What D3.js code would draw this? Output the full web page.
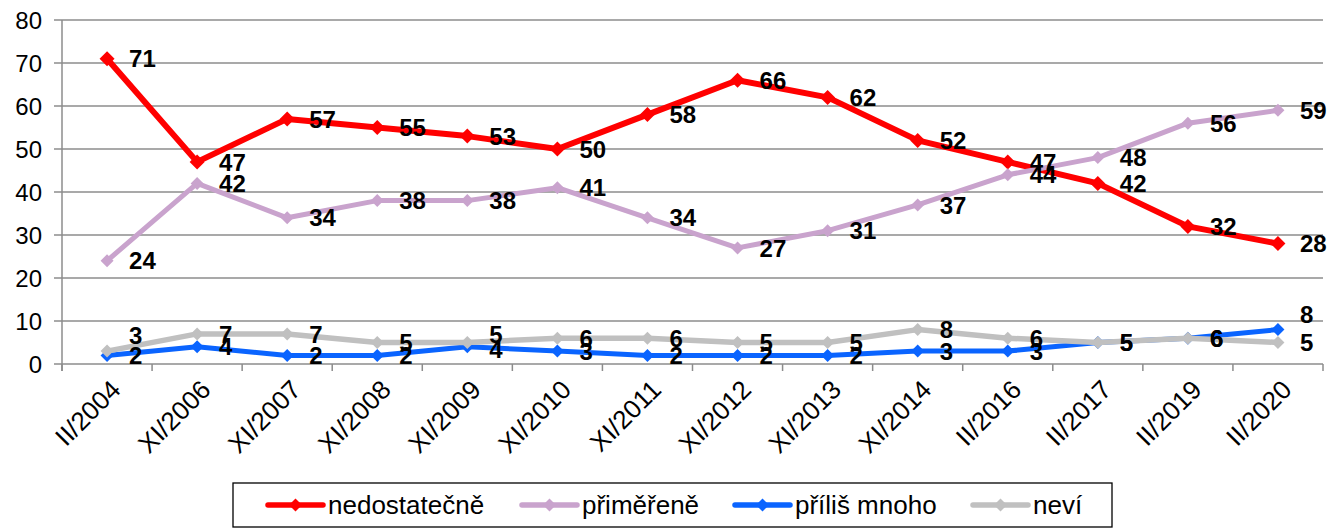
<!DOCTYPE html>
<html>
<head>
<meta charset="utf-8">
<script src="https://cdn.jsdelivr.net/npm/d3@7"></script>
<style>
  body { margin: 0; background: #fff; }
  text { font-family: "Liberation Sans", Arial, sans-serif; }
</style>
</head>
<body>
<div id="svgcontainer"></div>
<script>
var categories = ["II/2004", "XI/2006", "XI/2007", "XI/2008", "XI/2009", "XI/2010", "XI/2011",
                  "XI/2012", "XI/2013", "XI/2014", "II/2016", "II/2017", "II/2019", "II/2020"];
var nedostatecne = [71, 47, 57, 55, 53, 50, 58, 66, 62, 52, 47, 42, 32, 28];
var primerene    = [24, 42, 34, 38, 38, 41, 34, 27, 31, 37, 44, 48, 56, 59];
var prilisMnoho  = [2, 4, 2, 2, 4, 3, 2, 2, 2, 3, 3, 5, 6, 8];
var nevi         = [3, 7, 7, 5, 5, 6, 6, 5, 5, 8, 6, 5, 6, 5];
var yTicks = [0, 10, 20, 30, 40, 50, 60, 70, 80];

var series = [
  {label: "nedostatečně", values: nedostatecne, color: "#ff0000", width: 6, mark: 7.5},
  {label: "přiměřeně",    values: primerene,    color: "#c9a3cd", width: 5, mark: 6.5},
  {label: "příliš mnoho", values: prilisMnoho,  color: "#0a64ff", width: 5, mark: 6.5},
  {label: "neví",         values: nevi,         color: "#c0c0c0", width: 5.5, mark: 6.5}
];

// manual label nudges (px) where labels would collide
var labelShift = {
  "neví": {0: -16, 4: -8},
  "příliš mnoho": {4: 3, 13: -15}
};

var W = 1341, H = 529,
    margin = {top: 20, right: 18, bottom: 165, left: 62},
    width = W - margin.left - margin.right,
    height = H - margin.top - margin.bottom;

var svg = d3.select("div#svgcontainer").append("svg")
    .attr("width", W).attr("height", H);
var g = svg.append("g")
    .attr("transform", "translate(" + margin.left + "," + margin.top + ")");

var x = d3.scaleBand().domain(categories).range([0, width]);
var y = d3.scaleLinear().domain([0, 80]).range([height, 0]);
var cx = function(i){ return x(categories[i]) + x.bandwidth() / 2; };

// gridlines
g.selectAll(".grid").data(yTicks).enter().append("line")
  .attr("x1", -8).attr("x2", width)
  .attr("y1", function(d){ return y(d); }).attr("y2", function(d){ return y(d); })
  .style("stroke", "#8c8c8c").style("stroke-width", 1.5);

// y axis line
g.append("line").attr("x1", 0).attr("x2", 0).attr("y1", 0).attr("y2", height + 7)
  .style("stroke", "#8c8c8c").style("stroke-width", 1.5);

g.selectAll(".ylab").data(yTicks).enter().append("text")
  .attr("x", -20).attr("y", function(d){ return y(d); })
  .attr("dy", "0.36em").attr("text-anchor", "end")
  .style("font-size", "24px").text(function(d){ return d; });

// x ticks at band boundaries
var bounds = categories.map(function(c){ return x(c); }).concat([width]);
g.selectAll(".xtick").data(bounds).enter().append("line")
  .attr("x1", function(d){ return d; }).attr("x2", function(d){ return d; })
  .attr("y1", height).attr("y2", height + 7)
  .style("stroke", "#8c8c8c").style("stroke-width", 1.5);

g.selectAll(".xlab").data(categories).enter().append("text")
  .attr("transform", function(d, i){ return "translate(" + (cx(i) + 2) + "," + (height + 14) + ") rotate(-45)"; })
  .attr("text-anchor", "end").attr("dy", "0.72em")
  .style("font-size", "26px").text(function(d){ return d; });

var line = d3.line()
  .x(function(d, i){ return cx(i); })
  .y(function(d){ return y(d); });

function diamond(r){ return "M0," + (-r) + "L" + r + ",0L0," + r + "L" + (-r) + ",0Z"; }

series.forEach(function(s){
  g.append("path").attr("d", line(s.values))
    .style("fill", "none").style("stroke", s.color)
    .style("stroke-width", s.width).style("stroke-linejoin", "round");
  g.selectAll(null).data(s.values).enter().append("path")
    .attr("d", diamond(s.mark))
    .attr("transform", function(d, i){ return "translate(" + cx(i) + "," + y(d) + ")"; })
    .style("fill", s.color);
});

series.forEach(function(s){
  var shift = labelShift[s.label] || {};
  g.selectAll(null).data(s.values).enter().append("text")
    .attr("x", function(d, i){ return cx(i) + 22; })
    .attr("y", function(d, i){ return y(d) + (shift[i] || 0); })
    .attr("dy", "0.36em")
    .style("font-size", "24px").style("font-weight", "bold")
    .text(function(d){ return d; });
});

// legend
var lg = svg.append("g").attr("transform", "translate(233,483)");
lg.append("rect").attr("width", 879).attr("height", 44)
  .style("fill", "#fff").style("stroke", "#000").style("stroke-width", 1.3);
var legendX = [35, 289, 502, 740];
series.forEach(function(s, i){
  var it = lg.append("g").attr("transform", "translate(" + legendX[i] + ",22)");
  it.append("line").attr("x1", 0).attr("x2", 55)
    .style("stroke", s.color).style("stroke-width", 5.5).style("stroke-linecap", "round");
  it.append("path").attr("d", diamond(6.5)).attr("transform", "translate(27.5,0)").style("fill", s.color);
  it.append("text").attr("x", 60).attr("dy", "0.36em")
    .style("font-size", "26px").text(s.label);
});
</script>
</body>
</html>
